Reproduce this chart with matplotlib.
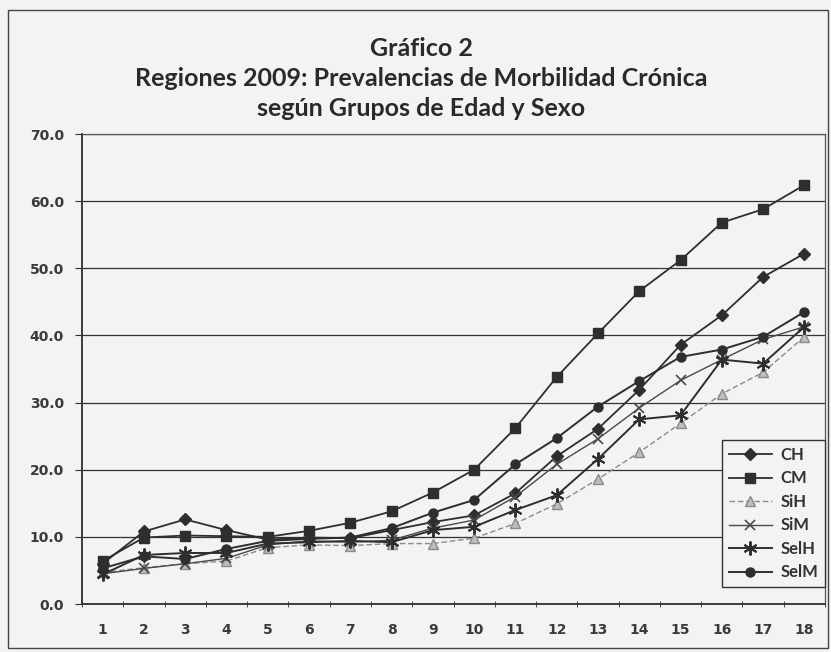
import numpy as np
import matplotlib
matplotlib.use('Agg')
from matplotlib import pyplot as plt
from matplotlib.patches import Rectangle

grupos = list(range(1, 19))
ch = [6.0, 10.8, 12.6, 11.0, 9.6, 9.9, 9.8, 11.0, 12.2, 13.2, 16.5, 22.0, 26.1, 31.9, 38.6, 43.0, 48.7, 52.2]
cm = [6.4, 9.9, 10.2, 10.1, 10.0, 10.9, 12.1, 13.8, 16.6, 20.0, 26.2, 33.8, 40.3, 46.6, 51.2, 56.8, 58.8, 62.4]
sih = [4.7, 5.4, 6.0, 6.4, 8.4, 8.8, 8.7, 9.0, 9.0, 9.8, 12.0, 14.9, 18.6, 22.6, 26.9, 31.3, 34.5, 39.8]
sim = [4.5, 5.3, 6.0, 6.8, 8.8, 9.4, 9.2, 9.5, 11.3, 12.5, 16.0, 20.8, 24.6, 29.2, 33.3, 36.4, 39.4, 41.3]
selh = [4.4, 7.3, 7.6, 7.6, 9.0, 9.2, 9.4, 9.2, 11.0, 11.5, 14.0, 16.2, 21.6, 27.5, 28.1, 36.4, 35.8, 41.3]
selm = [5.3, 7.1, 6.7, 8.2, 9.4, 9.7, 9.9, 11.3, 13.6, 15.5, 20.8, 24.7, 29.4, 33.2, 36.8, 37.9, 39.8, 43.5]
yticks = [0, 10, 20, 30, 40, 50, 60, 70]

bg = '#f3f3f1'
ink = '#2e2e2e'

fig = plt.figure(figsize=(8.31, 6.52), dpi=100, facecolor=bg)
# marco exterior del grafico
fig.patches.append(Rectangle((8 / 831, 1 - 648 / 652), 820 / 831, 638 / 652,
                             transform=fig.transFigure, fill=False,
                             edgecolor='#444444', linewidth=1.0))

ax = fig.add_axes([82 / 831, 1 - 604 / 652, 743 / 831, 470 / 652])
ax.set_facecolor(bg)

asterisk = (6, 2, 0)
ax.plot(grupos, ch, color=ink, lw=1.3, marker='D', ms=6, mfc=ink, mec=ink, label='CH')
ax.plot(grupos, cm, color=ink, lw=1.3, marker='s', ms=6.5, mfc=ink, mec=ink, label='CM')
ax.plot(grupos, sih, color='#8a8a8a', lw=1.0, ls=(0, (4, 2)), marker='^', ms=7,
        mfc='#bdbdbd', mec='#8a8a8a', label='SiH')
ax.plot(grupos, sim, color='#4a4a4a', lw=1.0, marker='x', ms=7, mew=1.2, label='SiM')
ax.plot(grupos, selh, color=ink, lw=1.4, marker=asterisk, ms=10, mew=1.4, label='SelH')
ax.plot(grupos, selm, color=ink, lw=1.4, marker='o', ms=6.5, mfc=ink, mec=ink, label='SelM')

ax.set_xlim(0.5, 18.5)
ax.set_ylim(0, 70)
ax.set_yticks(yticks)
ax.set_yticklabels([f'{v:.1f}' for v in yticks])
ax.set_xticks(grupos)
ax.set_xticks(np.arange(0.5, 19, 1), minor=True)
ax.tick_params(axis='x', which='major', length=0, pad=14)
ax.tick_params(axis='x', which='minor', length=5, direction='inout', color=ink)
ax.tick_params(axis='y', length=5, color=ink, pad=8)
for lbl in ax.get_xticklabels() + ax.get_yticklabels():
    lbl.set_family('DejaVu Sans')
    lbl.set_fontweight('bold')
    lbl.set_fontsize(10)
    lbl.set_color('#3a3a3a')

ax.yaxis.grid(True, color='#333333', lw=0.9)
ax.set_axisbelow(True)
for side in ['left', 'bottom']:
    ax.spines[side].set_color(ink)
    ax.spines[side].set_linewidth(1.3)
for side in ['top', 'right']:
    ax.spines[side].set_color('#555555')
    ax.spines[side].set_linewidth(0.9)

leg = ax.legend(loc='lower right', bbox_to_anchor=(1.0, 0.036), borderaxespad=0,
                frameon=True, fancybox=False, edgecolor='#333333', facecolor=bg,
                framealpha=1, prop={'family': 'Lato', 'weight': 'bold', 'size': 12},
                handlelength=2.6, labelspacing=0.45, borderpad=0.4, handletextpad=0.5)
for t in leg.get_texts():
    t.set_color('#333333')

titulo = ['Gráfico 2',
          'Regiones 2009: Prevalencias de Morbilidad Crónica',
          'según Grupos de Edad y Sexo']
for i, linea in enumerate(titulo):
    fig.text(0.507, 1 - (48 + 30 * i) / 652, linea, ha='center', va='center',
             family='Lato', fontweight='bold', fontsize=18, color='#2a2a2a')

fig.savefig('out.png', dpi=100, facecolor=bg)
